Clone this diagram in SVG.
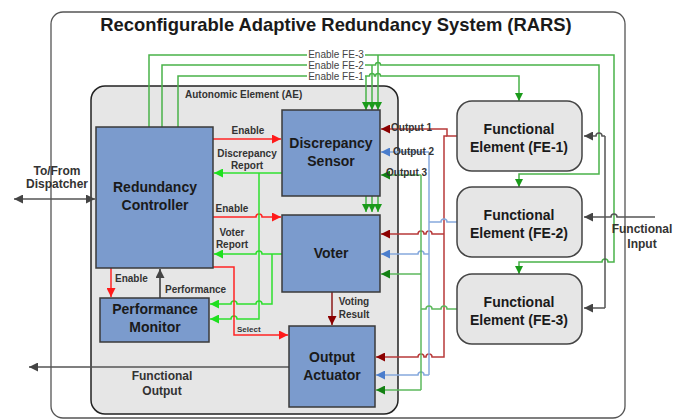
<svg xmlns="http://www.w3.org/2000/svg" width="675" height="420" viewBox="0 0 675 420">
<style>
text{font-family:"Liberation Sans",Arial,sans-serif;}
.nb{font-size:14px;font-weight:bold;fill:#1a1a1a;text-anchor:middle;}
.lb{font-size:10px;font-weight:bold;fill:#333;}
.blue{fill:#7b9bcd;stroke:#3a3a3a;stroke-width:1.5;}
.fe{fill:#e6e6e6;stroke:#444;stroke-width:1.5;}
.ln{fill:none;stroke-width:1.5;}
.r{stroke:#ff2424;}
.g{stroke:#2fe02f;}
.fg{stroke:#49b349;}
.dr{stroke:#b83a3a;}
.bl{stroke:#86a9dd;}
.dg{stroke:#5cb85c;}
.gy{stroke:#555;}
</style>
<defs>
<marker id="mR" viewBox="0 0 10 10" refX="10" refY="5" markerWidth="10" markerHeight="9" markerUnits="userSpaceOnUse" orient="auto"><path d="M0,0L10,5L0,10z" fill="#ff1a1a"/></marker>
<marker id="mG" viewBox="0 0 10 10" refX="10" refY="5" markerWidth="10" markerHeight="9" markerUnits="userSpaceOnUse" orient="auto"><path d="M0,0L10,5L0,10z" fill="#1ee01e"/></marker>
<marker id="mF" viewBox="0 0 10 10" refX="10" refY="5" markerWidth="9" markerHeight="8" markerUnits="userSpaceOnUse" orient="auto"><path d="M0,0L10,5L0,10z" fill="#1a9a1a"/></marker>
<marker id="mD" viewBox="0 0 10 10" refX="10" refY="5" markerWidth="10" markerHeight="9" markerUnits="userSpaceOnUse" orient="auto"><path d="M0,0L10,5L0,10z" fill="#8b0000"/></marker>
<marker id="mB" viewBox="0 0 10 10" refX="10" refY="5" markerWidth="10" markerHeight="9" markerUnits="userSpaceOnUse" orient="auto"><path d="M0,0L10,5L0,10z" fill="#4a7dcc"/></marker>
<marker id="mO" viewBox="0 0 10 10" refX="10" refY="5" markerWidth="10" markerHeight="9" markerUnits="userSpaceOnUse" orient="auto"><path d="M0,0L10,5L0,10z" fill="#138013"/></marker>
<marker id="mY" viewBox="0 0 10 10" refX="10" refY="5" markerWidth="10" markerHeight="9" markerUnits="userSpaceOnUse" orient="auto-start-reverse"><path d="M0,0L10,5L0,10z" fill="#444"/></marker>
</defs>

<g id="rars">
<rect x="51" y="12" width="574" height="406" rx="12" fill="#fff" stroke="#555" stroke-width="1.3"/>
<text x="336" y="31" font-size="18.4" font-weight="bold" fill="#1a1a1a" text-anchor="middle">Reconfigurable Adaptive Redundancy System (RARS)</text>
</g>

<g id="ae">
<rect x="91" y="86" width="307" height="328" rx="14" fill="#e6e6e6" stroke="#222" stroke-width="1.5"/>
<text x="185" y="98" class="lb" fill="#222">Autonomic Element (AE)</text>
</g>

<g id="connectors">
<path class="ln fg" d="M149,127V55H614V262H608a3,3 0 0 0 -6,0H519V274" marker-end="url(#mF)"/>
<path class="ln fg" d="M162,127V65H375.5a2.5,2.5 0 0 1 5,0H599V174H519V187" marker-end="url(#mF)"/>
<path class="ln fg" d="M178,127V76H369.5a2.5,2.5 0 0 1 5,0H375.5a2.5,2.5 0 0 1 5,0H519V101" marker-end="url(#mF)"/>
<path class="ln fg" d="M366,76V110" marker-end="url(#mF)"/>
<path class="ln fg" d="M372,65V110" marker-end="url(#mF)"/>
<path class="ln fg" d="M378,55V110" marker-end="url(#mF)"/>
<path class="ln fg" d="M366,196V212" marker-end="url(#mF)"/>
<path class="ln fg" d="M372,196V212" marker-end="url(#mF)"/>
<path class="ln fg" d="M378,196V212" marker-end="url(#mF)"/>
<rect x="307" y="49" width="58" height="11" fill="#fff"/>
<rect x="307" y="59" width="58" height="11" fill="#fff"/>
<rect x="307" y="70" width="58" height="11" fill="#fff"/>
<text x="336" y="58" font-size="10" fill="#444" text-anchor="middle">Enable FE-3</text>
<text x="336" y="69" font-size="10" fill="#444" text-anchor="middle">Enable FE-2</text>
<text x="336" y="80" font-size="10" fill="#444" text-anchor="middle">Enable FE-1</text>

<path class="ln gy" d="M655,217H617a3,3 0 0 0 -6,0H584" marker-end="url(#mY)"/>
<path class="ln gy" d="M605,136V308"/>
<path class="ln gy" d="M605,136H602a3,3 0 0 0 -6,0H584" marker-end="url(#mY)"/>
<path class="ln gy" d="M605,308H584" marker-end="url(#mY)"/>

<path class="ln dr" d="M457,136H447V129H381" marker-end="url(#mD)"/>
<path class="ln dr" d="M447,136H444V357H432a3,3 0 0 0 -6,0H424a3,3 0 0 0 -6,0H376" marker-end="url(#mD)"/>
<path class="ln dr" d="M444,234H432a3,3 0 0 0 -6,0H424a3,3 0 0 0 -6,0H381" marker-end="url(#mD)"/>
<path class="ln bl" d="M457,222H447a3,3 0 0 0 -6,0H429"/>
<path class="ln bl" d="M429,152V375"/>
<path class="ln bl" d="M429,152H381" marker-end="url(#mB)"/>
<path class="ln bl" d="M429,254H424a3,3 0 0 0 -6,0H381" marker-end="url(#mB)"/>
<path class="ln bl" d="M429,375H424a3,3 0 0 0 -6,0H376" marker-end="url(#mB)"/>
<path class="ln dg" d="M457,309H447a3,3 0 0 0 -6,0H432a3,3 0 0 0 -6,0H421"/>
<path class="ln dg" d="M421,175V390"/>
<path class="ln dg" d="M421,175H381" marker-end="url(#mO)"/>
<path class="ln dg" d="M421,274H381" marker-end="url(#mO)"/>
<path class="ln dg" d="M421,390H376" marker-end="url(#mO)"/>
<text x="391" y="131" class="lb">Output 1</text>
<text x="393" y="155" class="lb">Output 2</text>
<text x="386" y="176" class="lb">Output 3</text>

<path class="ln r" d="M213,139H281" marker-end="url(#mR)"/>
<path class="ln g" d="M282,173H214" marker-end="url(#mG)"/>
<path class="ln r" d="M213,217H256a3,3 0 0 1 6,0H281" marker-end="url(#mR)"/>
<path class="ln g" d="M282,254H262a3,3 0 0 0 -6,0H214" marker-end="url(#mG)"/>
<path class="ln g" d="M272,254V304H262a3,3 0 0 0 -6,0H237a3,3 0 0 0 -6,0H210" marker-end="url(#mG)"/>
<path class="ln g" d="M259,173V319H237a3,3 0 0 0 -6,0H210" marker-end="url(#mG)"/>
<path class="ln r" d="M213,267H234V335H288" marker-end="url(#mR)"/>
<path class="ln r" d="M111,268V297" marker-end="url(#mR)"/>
<path class="ln" stroke="#333" d="M160,298V269" marker-end="url(#mY)"/>
<path class="ln" stroke="#8b1a1a" d="M332,292V325" marker-end="url(#mD)"/>
<path class="ln gy" d="M14,199H95" marker-start="url(#mY)" marker-end="url(#mY)"/>
<path class="ln gy" d="M289,367H29" marker-end="url(#mY)"/>

<text x="248" y="134" class="lb" text-anchor="middle">Enable</text>
<text x="247" y="157" class="lb" text-anchor="middle">Discrepancy</text>
<text x="247" y="169" class="lb" text-anchor="middle">Report</text>
<text x="232" y="212" class="lb" text-anchor="middle">Enable</text>
<text x="232" y="236" class="lb" text-anchor="middle">Voter</text>
<text x="232" y="248" class="lb" text-anchor="middle">Report</text>
<text x="115" y="282" class="lb">Enable</text>
<text x="165" y="293" class="lb">Performance</text>
<text x="237" y="332" font-size="8" font-weight="bold" fill="#333">Select</text>
<text x="354" y="305" class="lb" text-anchor="middle">Voting</text>
<text x="354" y="318" class="lb" text-anchor="middle">Result</text>
<text x="57" y="175" font-size="12" font-weight="bold" fill="#333" text-anchor="middle">To/From</text>
<text x="57" y="188" font-size="12" font-weight="bold" fill="#333" text-anchor="middle">Dispatcher</text>
<text x="162" y="380" font-size="12" font-weight="bold" fill="#333" text-anchor="middle">Functional</text>
<text x="162" y="395" font-size="12" font-weight="bold" fill="#333" text-anchor="middle">Output</text>
<text x="642" y="233" font-size="12" font-weight="bold" fill="#333" text-anchor="middle">Functional</text>
<text x="642" y="248" font-size="12" font-weight="bold" fill="#333" text-anchor="middle">Input</text>
</g>

<g id="rc">
<rect class="blue" x="96" y="127" width="117" height="141"/>
<text class="nb" x="155" y="192">Redundancy</text>
<text class="nb" x="155" y="210">Controller</text>
</g>
<g id="ds">
<rect class="blue" x="282" y="110" width="98" height="86"/>
<text class="nb" x="331" y="148">Discrepancy</text>
<text class="nb" x="331" y="166">Sensor</text>
</g>
<g id="voter">
<rect class="blue" x="282" y="215" width="98" height="77"/>
<text class="nb" x="331" y="258">Voter</text>
</g>
<g id="pm">
<rect class="blue" x="100" y="298" width="109" height="44"/>
<text class="nb" x="155" y="314">Performance</text>
<text class="nb" x="155" y="332">Monitor</text>
</g>
<g id="oa">
<rect class="blue" x="289" y="326" width="86" height="81"/>
<text class="nb" x="332" y="362">Output</text>
<text class="nb" x="332" y="380">Actuator</text>
</g>
<g id="fe1">
<rect class="fe" x="457" y="101" width="125" height="70" rx="15"/>
<text class="nb" x="519" y="134">Functional</text>
<text class="nb" x="519" y="152">Element (FE-1)</text>
</g>
<g id="fe2">
<rect class="fe" x="457" y="187" width="125" height="70" rx="15"/>
<text class="nb" x="519" y="220">Functional</text>
<text class="nb" x="519" y="238">Element (FE-2)</text>
</g>
<g id="fe3">
<rect class="fe" x="457" y="274" width="125" height="70" rx="15"/>
<text class="nb" x="519" y="307">Functional</text>
<text class="nb" x="519" y="325">Element (FE-3)</text>
</g>
</svg>
